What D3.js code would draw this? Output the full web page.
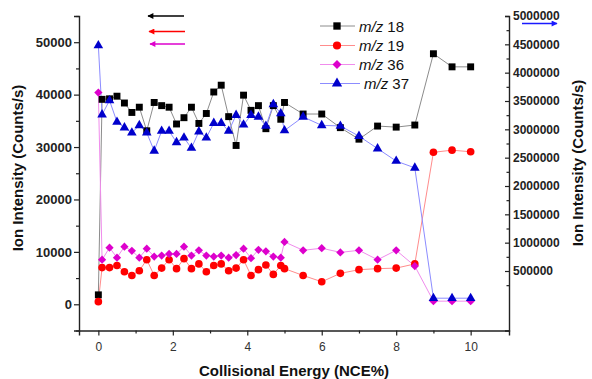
<!DOCTYPE html>
<html>
<head>
<meta charset="utf-8">
<script src="https://d3js.org/d3.v7.min.js"></script>
<style>
  body { margin: 0; background: #fff; }
  svg { font-family: "Liberation Sans", Arial, sans-serif; }
</style>
</head>
<body>
<svg width="592" height="379"></svg>
<script>
// collisional energy (NCE%)
var energy = [0, 0.1, 0.3, 0.5, 0.7, 0.9, 1.1, 1.3, 1.5, 1.7, 1.9, 2.1, 2.3, 2.5, 2.7, 2.9, 3.1, 3.3, 3.5, 3.7,
              3.9, 4.1, 4.3, 4.5, 4.7, 4.9, 5.0, 5.5, 6.0, 6.5, 7.0, 7.5, 8.0, 8.5, 9.0, 9.5, 10.0];

// left axis (counts/s)
var mz18 = [1800, 39100, 39200, 39700, 38400, 36600, 37600, 33100, 38500, 37900, 37600, 34400, 35600, 37600, 34500, 36400, 40500, 41800, 35800, 30300,
            39900, 37000, 37900, 33500, 37900, 35300, 38500, 36300, 36300, 33700, 31500, 34000, 33800, 34200, 47800, 45300, 45300];
var mz19 = [500, 7000, 7000, 7400, 6200, 5500, 6400, 8500, 5500, 6900, 8500, 6800, 8700, 6800, 7700, 6200, 7400, 7700, 6400, 6900,
            8500, 5500, 6600, 7500, 5700, 7400, 6800, 5500, 4300, 5900, 6600, 6800, 6900, 7700, 29000, 29400, 29100];
var mz36 = [40400, 8500, 10800, 8900, 11000, 10200, 8900, 10600, 9100, 9300, 9600, 9600, 11000, 9300, 10300, 9300, 9100, 9300, 8900, 9400,
            10600, 8800, 10400, 10100, 9100, 8900, 11900, 10300, 10700, 9900, 10300, 8500, 10300, 7300, 600, 600, 600];
// right axis (counts/s)
var mz37 = [4480000, 3260000, 3510000, 3130000, 3030000, 2940000, 3070000, 2940000, 2620000, 2970000, 2970000, 2770000, 2850000, 2670000, 2960000, 2850000, 3110000, 3110000, 2970000, 3250000,
            3080000, 3250000, 3220000, 3060000, 3440000, 3280000, 2980000, 3220000, 3070000, 3060000, 2880000, 2660000, 2440000, 2320000, 20000, 20000, 20000];

var leftTicks = [0, 10000, 20000, 30000, 40000, 50000];
var rightTicks = [500000, 1000000, 1500000, 2000000, 2500000, 3000000, 3500000, 4000000, 4500000, 5000000];
var xTicks = [0, 2, 4, 6, 8, 10];

var svg = d3.select("svg"),
    margin = {top: 16, right: 83, bottom: 48.5, left: 79},
    width = +svg.attr("width") - margin.left - margin.right,
    height = +svg.attr("height") - margin.top - margin.bottom,
    g = svg.append("g").attr("transform", "translate(" + margin.left + "," + margin.top + ")");

var x = d3.scaleLinear().domain([-0.52, 11.03]).range([0, width]);
var yL = d3.scaleLinear().domain([-5000, 55000]).range([height, 0]);
var yR = d3.scaleLinear().domain([-550000, 5000000]).range([height, 0]);

var axisColor = "#222";

// minor ticks
g.append("g").attr("class", "minor")
    .attr("transform", "translate(0," + height + ")")
    .call(d3.axisBottom(x).tickValues([1, 3, 5, 7, 9]).tickSize(3).tickFormat(""));
g.append("g").attr("class", "minor")
    .call(d3.axisLeft(yL).tickValues([-5000, 5000, 15000, 25000, 35000, 45000, 55000]).tickSize(3).tickFormat(""));
g.append("g").attr("class", "minor")
    .attr("transform", "translate(" + width + ",0)")
    .call(d3.axisRight(yR).tickValues(d3.range(250000, 5000000, 500000)).tickSize(-2.5).tickFormat(""));

var xAxis = g.append("g").attr("class", "axis")
    .attr("transform", "translate(0," + height + ")")
    .call(d3.axisBottom(x).tickValues(xTicks).tickSize(5).tickPadding(7).tickFormat(d3.format("d")));
xAxis.selectAll("text").style("font-size", "12px").attr("fill", "#333");

var yAxisL = g.append("g").attr("class", "axis")
    .call(d3.axisLeft(yL).tickValues(leftTicks).tickSize(5).tickPadding(2).tickFormat(d3.format("d")));
yAxisL.selectAll("text").style("font-size", "13px").style("font-weight", "bold").attr("fill", "#222");

var yAxisR = g.append("g").attr("class", "axis")
    .attr("transform", "translate(" + width + ",0)")
    .call(d3.axisRight(yR).tickValues(rightTicks).tickSize(-4).tickPadding(4).tickFormat(d3.format("d")));
yAxisR.selectAll("text").style("font-size", "12px").style("font-weight", "bold").attr("fill", "#222");

svg.selectAll(".axis path, .minor path").attr("stroke", axisColor).attr("stroke-width", 1.4);
svg.selectAll(".axis line, .minor line").attr("stroke", axisColor).attr("stroke-width", 1.2);
svg.selectAll(".minor path").remove();

// axis titles
svg.append("text")
    .attr("x", 294).attr("y", 376)
    .attr("text-anchor", "middle")
    .style("font-size", "15px").style("font-weight", "bold").attr("fill", "#111")
    .text("Collisional Energy (NCE%)");
svg.append("text")
    .attr("transform", "translate(23,168) rotate(-90)")
    .attr("text-anchor", "middle")
    .style("font-size", "15px").style("font-weight", "bold").attr("fill", "#111")
    .text("Ion Intensity (Counts/s)");
svg.append("text")
    .attr("transform", "translate(583,163) rotate(-90)")
    .attr("text-anchor", "middle")
    .style("font-size", "15px").style("font-weight", "bold").attr("fill", "#111")
    .text("Ion Intensity (Counts/s)");

// diamonds are squares turned 45 degrees
var series = [
    {name: "18", values: mz18, scale: yL, color: "#000", line: "#8c8c8c", shape: d3.symbolSquare, size: 48, rot: 0},
    {name: "19", values: mz19, scale: yL, color: "#ff0000", line: "#ff8c8c", shape: d3.symbolCircle, size: 46, rot: 0},
    {name: "36", values: mz36, scale: yL, color: "#dd00cc", line: "#f08cec", shape: d3.symbolSquare, size: 34, rot: 45},
    {name: "37", values: mz37, scale: yR, color: "#0000cc", line: "#8c8cff", shape: d3.symbolTriangle, size: 40, rot: 0}
];

series.forEach(function(s) {
    var pts = energy.map(function(e, i) { return [e, s.values[i]]; });
    var line = d3.line()
        .x(function(d) { return x(d[0]); })
        .y(function(d) { return s.scale(d[1]); });
    g.append("path")
        .datum(pts)
        .attr("fill", "none")
        .attr("stroke", s.line)
        .attr("stroke-width", 1)
        .attr("d", line);
});

series.forEach(function(s) {
    var pts = energy.map(function(e, i) { return [e, s.values[i]]; });
    g.selectAll(".dot" + s.name)
        .data(pts)
      .enter().append("path")
        .attr("class", "dot" + s.name)
        .attr("transform", function(d) { return "translate(" + x(d[0]) + "," + s.scale(d[1]) + ") rotate(" + s.rot + ")"; })
        .attr("d", d3.symbol().type(s.shape).size(s.size))
        .attr("fill", s.color);
});

// legend
var legendY = [26, 45.5, 64.5, 83.5];
series.forEach(function(s, i) {
    var lg = svg.append("g").attr("transform", "translate(320," + legendY[i] + ")");
    lg.append("line").attr("x1", 0).attr("x2", i == 3 ? 40 : 35).attr("y1", 0).attr("y2", 0)
        .attr("stroke", s.line).attr("stroke-width", 1);
    lg.append("path").attr("transform", "translate(17,0) rotate(" + s.rot + ")")
        .attr("d", d3.symbol().type(s.shape).size(s.size + 6)).attr("fill", s.color);
    var t = lg.append("text").attr("x", i == 3 ? 44 : 39).attr("y", 5.5)
        .style("font-size", "15px").attr("fill", "#111");
    t.append("tspan").style("font-style", "italic").text("m/z");
    t.append("tspan").text(" " + s.name);
});

// arrows showing which axis each series uses
var defs = svg.append("defs");
series.forEach(function(s, i) {
    defs.append("marker")
        .attr("id", "arr" + i)
        .attr("viewBox", "0 0 10 10")
        .attr("refX", 9).attr("refY", 5)
        .attr("markerWidth", 7).attr("markerHeight", 6)
        .attr("markerUnits", "userSpaceOnUse")
        .attr("orient", "auto")
      .append("path").attr("d", "M0,0L10,5L0,10Z").attr("fill", s.color == "#0000cc" ? "#1a1aff" : s.color);
});
var arrows = [
    {x1: 184, x2: 148, y: 16},
    {x1: 185, x2: 149, y: 31.5},
    {x1: 185, x2: 150, y: 44},
    {x1: 522, x2: 557, y: 23.5}
];
arrows.forEach(function(a, i) {
    svg.append("line")
        .attr("x1", a.x1).attr("x2", a.x2).attr("y1", a.y).attr("y2", a.y)
        .attr("stroke", i == 3 ? "#1a1aff" : series[i].color)
        .attr("stroke-width", 1.5)
        .attr("marker-end", "url(#arr" + i + ")");
});
</script>
</body>
</html>
